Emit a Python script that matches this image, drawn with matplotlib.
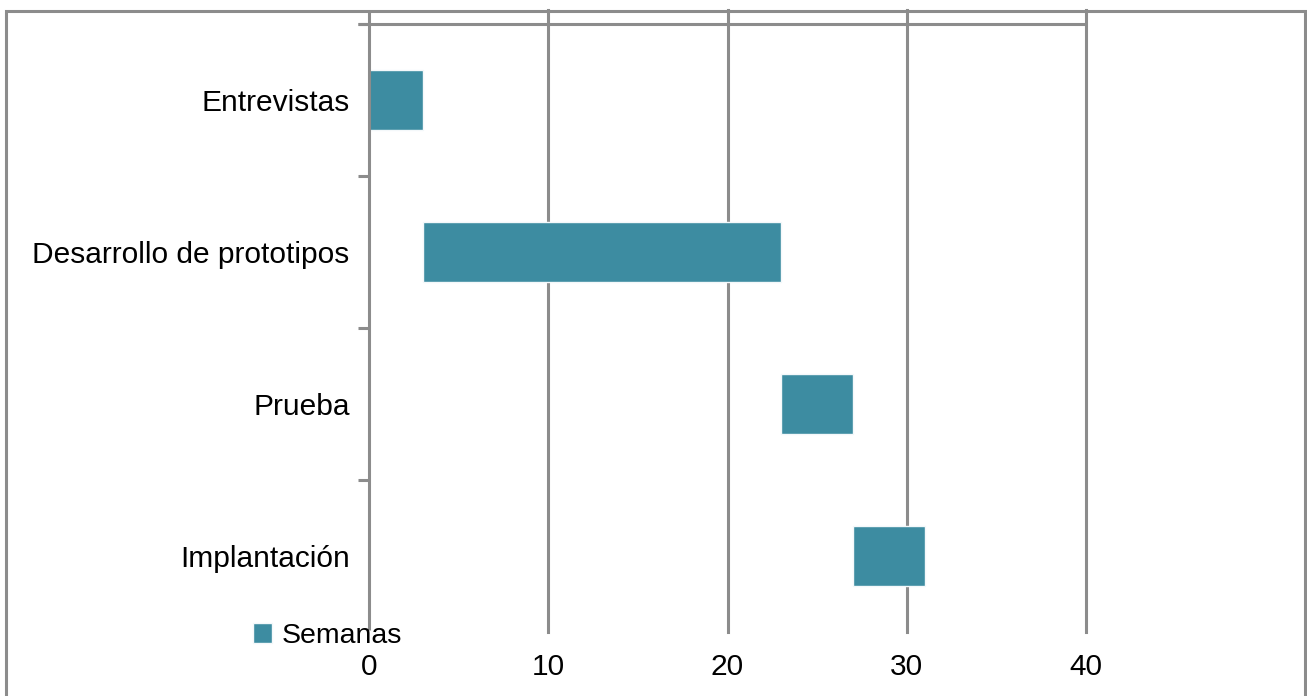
import matplotlib
matplotlib.use("Agg")
import matplotlib.pyplot as plt
from matplotlib.patches import Rectangle

tasks = ["Entrevistas", "Desarrollo de prototipos", "Prueba", "Implantación"]
start_week = [0, 3, 23, 27]
duration_weeks = [3, 20, 4, 4]
x_ticks = [0, 10, 20, 30, 40]
series_name = "Semanas"

W, H = 1307, 696
bar_color = "#3d8ca1"
grid_color = "#8c8c8c"
lw = 2.2
fs = 21.5

plt.rcParams["font.family"] = ["Liberation Sans", "DejaVu Sans"]
fig = plt.figure(figsize=(W / 100, H / 100), dpi=100)

# plot area in pixels
x0, x1 = 369, 1086
y_top, y_bot = 10, 632
ax = fig.add_axes([x0 / W, 1 - y_bot / H, (x1 - x0) / W, (y_bot - y_top) / H])

band = (y_bot - 24) / len(tasks)
top_lim = -0.5 - (24 - y_top) / band
ax.set_xlim(0, 40)
ax.set_ylim(len(tasks) - 0.5, top_lim)

ypos = list(range(len(tasks)))
ax.barh(ypos, duration_weeks, left=start_week, height=0.39, color=bar_color,
        edgecolor="#f4f8fa", linewidth=1.0, zorder=3, label=series_name)

for s in ax.spines.values():
    s.set_visible(False)

# vertical gridlines
for t in x_ticks[1:]:
    ax.axvline(t, color=grid_color, lw=lw, zorder=2, clip_on=False)

# category axis line and tick marks
px_unit = (x1 - x0) / 40
tick_len = 11 / px_unit
ax.plot([0, 0], [top_lim, len(tasks) - 0.5 - 2 / band], color=grid_color, lw=lw,
        zorder=4, clip_on=False, solid_capstyle="butt")
ax.plot([-tick_len, 40], [-0.5, -0.5], color=grid_color, lw=lw, zorder=4,
        clip_on=False, solid_capstyle="butt")
for k in range(len(tasks)):
    ax.plot([-tick_len, 0], [k - 0.5, k - 0.5], color=grid_color, lw=lw,
            zorder=4, clip_on=False, solid_capstyle="butt")

ax.set_yticks(ypos)
ax.set_yticklabels(tasks, fontsize=fs)
ax.tick_params(axis="y", length=0, pad=14)
ax.set_xticks(x_ticks)
ax.set_xticklabels([str(t) for t in x_ticks], fontsize=fs)
ax.tick_params(axis="x", length=0, pad=15)

leg = fig.legend(loc="center left", bbox_to_anchor=(253 / W, 1 - 636 / H),
                 frameon=False, fontsize=20.5, handlelength=0.65, handleheight=0.65,
                 handletextpad=0.35, borderpad=0, borderaxespad=0)

# outer frame
fig.patches.append(Rectangle((6 / W, -0.05), (1305 - 6) / W, 1.05 - 11 / H,
                             transform=fig.transFigure, fill=False,
                             edgecolor=grid_color, linewidth=lw))

fig.savefig("out.png", dpi=100)
